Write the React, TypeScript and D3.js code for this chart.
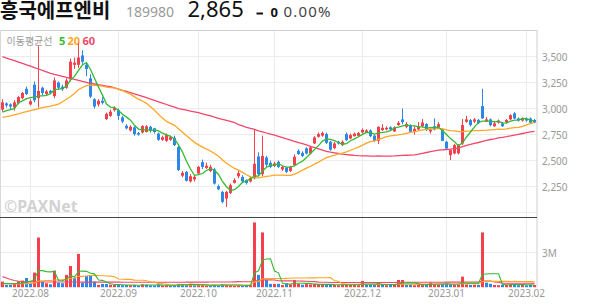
import React from 'react';
import * as d3 from 'd3';

// ---------- categories ----------
const HOLIDAYS = ['2022-08-15', '2022-09-09', '2022-09-12', '2022-10-03', '2022-10-10', '2022-12-30', '2023-01-23', '2023-01-24'];
function buildDays(start: string, end: string): string[] {
  const out: string[] = [];
  const d = new Date(start + 'T00:00:00Z');
  const e = new Date(end + 'T00:00:00Z');
  while (d <= e) {
    const wd = d.getUTCDay();
    const s = d.toISOString().slice(0, 10);
    if (wd !== 0 && wd !== 6 && !HOLIDAYS.includes(s)) out.push(s);
    d.setUTCDate(d.getUTCDate() + 1);
  }
  return out;
}
const dates = buildDays('2022-07-21', '2023-02-03');

// ---------- series (KRW) ----------
const opens = [
  2990, 3050, 3040, 3010, 3050, 3100, 3190, 3040, 3230, 3100,
  3200, 3140, 3170, 3120, 3250, 3210, 3200, 3280, 3420, 3420,
  3510, 3420, 3290, 3090, 3040, 3075, 2900, 2930, 2985, 2985,
  2915, 2835, 2790, 2820, 2765, 2770, 2775, 2825, 2810, 2760,
  2700, 2690, 2700, 2720, 2630, 2355, 2392, 2300, 2320, 2377,
  2485, 2430, 2400, 2415, 2255, 2200, 2136, 2190, 2287, 2350,
  2344, 2310, 2300, 2330, 2540, 2370, 2530, 2479, 2447, 2489,
  2415, 2434, 2400, 2457, 2594, 2575, 2617, 2569, 2665, 2729,
  2740, 2755, 2681, 2620, 2681, 2649, 2755, 2713, 2735, 2738,
  2771, 2775, 2790, 2740, 2690, 2793, 2800, 2820, 2780, 2841,
  2896, 2825, 2841, 2780, 2800, 2830, 2851, 2780, 2830, 2820,
  2800, 2681, 2553, 2569, 2570, 2665, 2873, 2889, 2875, 2889,
  3024, 2875, 2896, 2830, 2865, 2858, 2870, 2896, 2954, 2905,
  2885, 2900, 2905, 2890,
];
const highs = [
  3090, 3060, 3050, 3080, 3120, 3160, 3210, 3090, 3260, 3600,
  3210, 3180, 3180, 3300, 3260, 3230, 3290, 3480, 3490, 3630,
  3560, 3440, 3330, 3100, 3090, 3110, 2960, 2990, 3020, 3000,
  2930, 2850, 2840, 2830, 2775, 2840, 2840, 2835, 2815, 2770,
  2740, 2760, 2740, 2740, 2640, 2400, 2400, 2370, 2360, 2450,
  2510, 2480, 2460, 2430, 2270, 2210, 2210, 2280, 2330, 2400,
  2360, 2320, 2350, 2800, 2580, 2740, 2545, 2500, 2490, 2500,
  2450, 2440, 2450, 2560, 2610, 2590, 2630, 2640, 2735, 2770,
  2780, 2770, 2690, 2680, 2690, 2695, 2770, 2760, 2770, 2775,
  2810, 2800, 2800, 2750, 2830, 2850, 2830, 2830, 2830, 2880,
  3000, 2870, 2850, 2830, 2870, 2900, 2860, 2810, 2905, 2870,
  2810, 2690, 2610, 2660, 2660, 2900, 2930, 2900, 2910, 2900,
  3190, 2920, 2905, 2880, 2895, 2870, 2900, 2945, 2965, 2915,
  2915, 2915, 2915, 2900,
];
const lows = [
  2970, 3010, 2990, 2980, 3040, 3090, 3130, 3030, 3060, 3010,
  3130, 3130, 3140, 3100, 3180, 3170, 3190, 3260, 3380, 3390,
  3430, 3310, 3100, 3000, 3020, 3040, 2890, 2920, 2970, 2890,
  2860, 2800, 2780, 2740, 2740, 2760, 2770, 2770, 2760, 2690,
  2690, 2680, 2690, 2640, 2400, 2340, 2300, 2290, 2300, 2370,
  2420, 2420, 2390, 2270, 2215, 2090, 2056, 2180, 2280, 2330,
  2290, 2270, 2290, 2320, 2350, 2350, 2440, 2430, 2440, 2430,
  2400, 2380, 2390, 2450, 2555, 2535, 2560, 2560, 2660, 2720,
  2730, 2660, 2595, 2610, 2655, 2640, 2690, 2705, 2730, 2730,
  2760, 2765, 2725, 2680, 2660, 2785, 2790, 2790, 2775, 2835,
  2850, 2810, 2770, 2750, 2790, 2820, 2785, 2760, 2790, 2810,
  2690, 2610, 2505, 2560, 2560, 2650, 2865, 2830, 2860, 2850,
  2900, 2870, 2830, 2825, 2855, 2825, 2860, 2890, 2900, 2875,
  2875, 2875, 2860, 2860,
];
const closes = [
  3060, 3030, 3020, 3060, 3110, 3150, 3140, 3070, 3080, 3170,
  3150, 3165, 3150, 3270, 3200, 3185, 3270, 3450, 3440, 3490,
  3450, 3380, 3115, 3020, 3075, 3055, 2950, 2970, 3005, 2930,
  2875, 2810, 2825, 2755, 2750, 2832, 2830, 2790, 2775, 2700,
  2725, 2745, 2725, 2650, 2410, 2383, 2306, 2350, 2345, 2440,
  2440, 2450, 2440, 2280, 2225, 2104, 2200, 2264, 2313, 2380,
  2300, 2285, 2335, 2470, 2370, 2545, 2460, 2440, 2473, 2440,
  2440, 2392, 2440, 2537, 2563, 2545, 2569, 2627, 2723, 2755,
  2765, 2671, 2605, 2665, 2665, 2681, 2697, 2745, 2760, 2765,
  2795, 2790, 2735, 2690, 2825, 2815, 2815, 2800, 2819, 2863,
  2870, 2851, 2777, 2805, 2825, 2865, 2793, 2800, 2800, 2850,
  2690, 2617, 2601, 2649, 2649, 2841, 2896, 2841, 2896, 2860,
  2906, 2896, 2840, 2858, 2885, 2830, 2890, 2937, 2905, 2885,
  2905, 2885, 2865, 2865,
];
// volume, millions of shares
const volumes = [
  0.49, 0.20, 0.20, 0.30, 0.52, 0.58, 0.80, 0.35, 1.27, 4.29,
  0.49, 0.35, 0.26, 1.44, 0.40, 0.35, 1.07, 1.84, 0.78, 2.88,
  0.40, 0.98, 1.04, 0.49, 0.20, 0.29, 0.29, 0.22, 0.20, 0.22,
  0.18, 0.20, 0.17, 0.20, 0.15, 0.25, 0.22, 0.18, 0.16, 0.22,
  0.15, 0.18, 0.15, 0.17, 0.30, 0.28, 0.22, 0.30, 0.18, 0.22,
  0.20, 0.15, 0.16, 0.20, 0.17, 0.25, 0.22, 0.18, 0.15, 0.17,
  0.14, 0.16, 0.18, 5.59, 1.07, 4.73, 0.63, 0.29, 0.29, 0.30,
  0.20, 0.35, 0.25, 0.63, 0.30, 0.22, 0.28, 0.25, 0.30, 0.22,
  0.20, 0.28, 0.25, 0.20, 0.18, 0.22, 0.25, 0.20, 0.22, 0.18,
  0.55, 0.20, 0.22, 0.25, 0.35, 0.20, 0.18, 0.22, 0.20, 0.63,
  0.63, 0.22, 0.25, 0.18, 0.20, 0.22, 0.25, 0.40, 0.25, 0.22,
  0.30, 0.35, 0.25, 0.20, 0.22, 0.92, 0.25, 0.20, 0.22, 0.20,
  4.73, 0.40, 0.30, 0.20, 0.18, 0.22, 0.20, 0.28, 0.30, 0.18,
  0.20, 0.17, 0.22, 0.20,
];

const ma5Head = [2965, 2980, 2990, 3000];
const ma20Head = [2915, 2922, 2930, 2940, 2950, 2960, 2970, 2980, 2990, 3000, 3008, 3016, 3024, 3033, 3043, 3065, 3090, 3115, 3145];
const ma60Head = [
  3498, 3485, 3472, 3460, 3447, 3433, 3420, 3407, 3393, 3380,
  3366, 3352, 3338, 3328, 3319, 3309, 3300, 3290, 3280, 3271,
  3261, 3252, 3242, 3236, 3229, 3223, 3216, 3210, 3198, 3187,
  3175, 3164, 3153, 3141, 3130, 3117, 3104, 3091, 3078, 3065,
  3052, 3039, 3026, 3013, 3000, 2992, 2984, 2976, 2968, 2960,
  2950, 2940, 2930, 2918, 2907, 2896, 2886, 2876, 2866,
];
const vma5Head = [0.35, 0.33, 0.32, 0.33];
const vma20Head = [0.29, 0.29, 0.28, 0.28, 0.29, 0.30, 0.32, 0.33, 0.38, 0.55, 0.57, 0.58, 0.58, 0.63, 0.64, 0.65, 0.69, 0.76, 0.80];
const vma60Head = [
  0.92, 0.80, 0.68, 0.58, 0.52, 0.49, 0.48, 0.47, 0.47, 0.47,
  0.46, 0.46, 0.46, 0.46, 0.46, 0.46, 0.46, 0.46, 0.46, 0.46,
  0.45, 0.45, 0.45, 0.45, 0.45, 0.45, 0.45, 0.45, 0.45, 0.45,
  0.44, 0.44, 0.44, 0.44, 0.44, 0.44, 0.44, 0.44, 0.44, 0.44,
  0.44, 0.44, 0.44, 0.44, 0.44, 0.44, 0.45, 0.45, 0.45, 0.45,
  0.45, 0.45, 0.46, 0.46, 0.46, 0.46, 0.46, 0.46, 0.47,
];

const priceTicks = [2250, 2500, 2750, 3000, 3250, 3500];
const priceGrid = [2000, 2250, 2500, 2750, 3000, 3250, 3500];
const volTicks = [3];
const volTickLabels = ['3M'];

const header = { name: '흥국에프엔비', code: '189980', price: '2,865', change: '0', pct: '0.00%' };

// ---------- helpers ----------
function movingAvg(vals: number[], n: number, head: number[]): number[] {
  return vals.map((_, i) => (i < n - 1 ? head[i] : (d3.mean(vals.slice(i - n + 1, i + 1)) as number)));
}

const KR = "'Noto Sans CJK KR', 'Noto Sans', sans-serif";
const LAT = "'Noto Sans', 'Noto Sans CJK KR', sans-serif";
const RED = '#f2414c';
const BLUE = '#2d87e6';
const C5 = '#34b934';
const C20 = '#ffa623';
const C60 = '#f2476b';

export default function App() {
  const W = 594, H = 304;
  const plotL = 0.5, plotR = 536.5;
  const pTop = 30, pBot = 217.7, vBot = 287.3;

  const x = d3.scaleBand<string>().domain(dates).range([plotL, plotR]).paddingInner(0).paddingOuter(0);
  const cx = (i: number) => (x(dates[i]) as number) + x.bandwidth() / 2;
  const yP = d3.scaleLinear().domain([2000, 3500]).range([212.7, 56.5]);
  const yV = d3.scaleLinear().domain([0, 3]).range([vBot, 252.5]);
  const crisp = (v: number) => Math.floor(v) + 0.5;

  const ma5 = movingAvg(closes, 5, ma5Head);
  const ma20 = movingAvg(closes, 20, ma20Head);
  const ma60 = movingAvg(closes, 60, ma60Head);
  const vma5 = movingAvg(volumes, 5, vma5Head);
  const vma20 = movingAvg(volumes, 20, vma20Head);
  const vma60 = movingAvg(volumes, 60, vma60Head);

  const pLine = d3.line<number>().x((_, i) => cx(i)).y((v) => yP(v)).curve(d3.curveLinear);
  const vLine = d3.line<number>().x((_, i) => cx(i)).y((v) => yV(v)).curve(d3.curveLinear);

  const monthIdx: number[] = [];
  dates.forEach((d, i) => {
    if (i > 0 && d.slice(5, 7) !== dates[i - 1].slice(5, 7)) monthIdx.push(i);
  });

  return (
    <svg width={W} height={H} viewBox={`0 0 ${W} ${H}`} style={{ position: 'absolute', left: 0, top: 0, background: '#fff' }}>
      <defs>
        <clipPath id="pclip"><rect x={0} y={pTop} width={plotR + 0.5} height={pBot - pTop} /></clipPath>
        <clipPath id="vclip"><rect x={0} y={pBot + 0.5} width={plotR + 0.5} height={vBot - pBot} /></clipPath>
      </defs>
      <rect x={0} y={0} width={W} height={H} fill="#fff" />

      {/* header */}
      <text x={0} y={17.5} fontFamily={KR} fontSize={20} fontWeight={700} fill="#111">{header.name}</text>
      <text x={126} y={16.7} fontFamily={LAT} fontSize={14} fill="#9a9a9a">{header.code}</text>
      <text x={187.5} y={17.3} fontFamily={LAT} fontSize={22} fill="#111">{header.price}</text>
      <rect x={256.5} y={12.5} width={6.5} height={2} fill="#111" />
      <text x={270.5} y={16.8} fontFamily={LAT} fontSize={13} fontWeight={700} fill="#111">{header.change}</text>
      <text x={283.5} y={16.8} fontFamily={LAT} fontSize={15} letterSpacing={1.2} fill="#444">{header.pct}</text>

      {/* grid */}
      {priceGrid.map((t) => (
        <line key={'pg' + t} x1={1} x2={plotR} y1={crisp(yP(t))} y2={crisp(yP(t))} stroke="#ececec" strokeWidth={1} />
      ))}
      {volTicks.map((t) => (
        <line key={'vg' + t} x1={1} x2={plotR} y1={crisp(yV(t))} y2={crisp(yV(t))} stroke="#ececec" strokeWidth={1} />
      ))}
      {monthIdx.map((i) => (
        <line key={'mg' + i} x1={cx(i)} x2={cx(i)} y1={pTop} y2={vBot} stroke="#ececec" strokeWidth={1} />
      ))}

      {/* frame */}
      <line x1={0.5} x2={plotR + 0.5} y1={30.5} y2={30.5} stroke="#cfcfcf" />
      <line x1={0.5} x2={0.5} y1={30.5} y2={vBot} stroke="#d8d8d8" />
      <line x1={plotR + 0.5} x2={plotR + 0.5} y1={30.5} y2={vBot} stroke="#cfcfcf" />
      <line x1={0} x2={plotR + 0.5} y1={217.5} y2={217.5} stroke="#444" />

      {/* watermark */}
      <text x={4} y={212} fontFamily={LAT} fontSize={16} fontWeight={700} fill="#d2d2d2">©PAXNet</text>

      {/* legend */}
      <text x={6.5} y={45} fontFamily={KR} fontSize={10} fill="#999">이동평균선</text>
      <text x={59} y={45} fontFamily={LAT} fontSize={11} fontWeight={700} fill={C5}>5</text>
      <text x={67.5} y={45} fontFamily={LAT} fontSize={11} fontWeight={700} fill={C20}>20</text>
      <text x={82.5} y={45} fontFamily={LAT} fontSize={11} fontWeight={700} fill={C60}>60</text>

      {/* volume */}
      <g clipPath="url(#vclip)">
        {volumes.map((v, i) => {
          const up = i === 0 ? closes[0] >= opens[0] : closes[i] >= closes[i - 1];
          const y0 = yV(v);
          return <rect key={'v' + i} x={cx(i) - 1.5} y={y0} width={3} height={Math.max(1, vBot - y0)} fill={up ? RED : BLUE} />;
        })}
        <path d={vLine(vma60) || ''} fill="none" stroke={C60} strokeWidth={1.1} />
        <path d={vLine(vma20) || ''} fill="none" stroke={C20} strokeWidth={1.1} />
        <path d={vLine(vma5) || ''} fill="none" stroke={C5} strokeWidth={1.1} />
      </g>

      {/* candles */}
      <g clipPath="url(#pclip)">
        {closes.map((c, i) => {
          const o = opens[i];
          const up = c >= o;
          const col = up ? RED : BLUE;
          const yo = yP(o), yc = yP(c);
          const top = Math.min(yo, yc);
          const h = Math.max(1, Math.abs(yo - yc));
          return (
            <g key={'c' + i}>
              <line x1={cx(i)} x2={cx(i)} y1={yP(highs[i])} y2={yP(lows[i])} stroke={col} strokeWidth={1} />
              <rect x={cx(i) - 1.5} y={top} width={3} height={h} fill={col} />
            </g>
          );
        })}
        <path d={pLine(ma60) || ''} fill="none" stroke={C60} strokeWidth={1.3} />
        <path d={pLine(ma20) || ''} fill="none" stroke={C20} strokeWidth={1.3} />
        <path d={pLine(ma5) || ''} fill="none" stroke={C5} strokeWidth={1.3} />
      </g>

      {/* right axis labels */}
      {priceTicks.map((t) => (
        <text key={'pt' + t} x={542} y={yP(t) + 4.6} fontFamily={LAT} fontSize={10} fill="#999">{d3.format(',')(t)}</text>
      ))}
      {volTicks.map((t, k) => (
        <text key={'vt' + t} x={542} y={yV(t) + 4.4} fontFamily={LAT} fontSize={10} fill="#999">{volTickLabels[k]}</text>
      ))}

      {/* bottom axis labels */}
      {monthIdx.map((i) => (
        <text key={'ml' + i} x={cx(i)} y={296.5} textAnchor="middle" fontFamily={LAT} fontSize={10} fill="#999">
          {dates[i].slice(0, 4) + '.' + dates[i].slice(5, 7)}
        </text>
      ))}
    </svg>
  );
}
